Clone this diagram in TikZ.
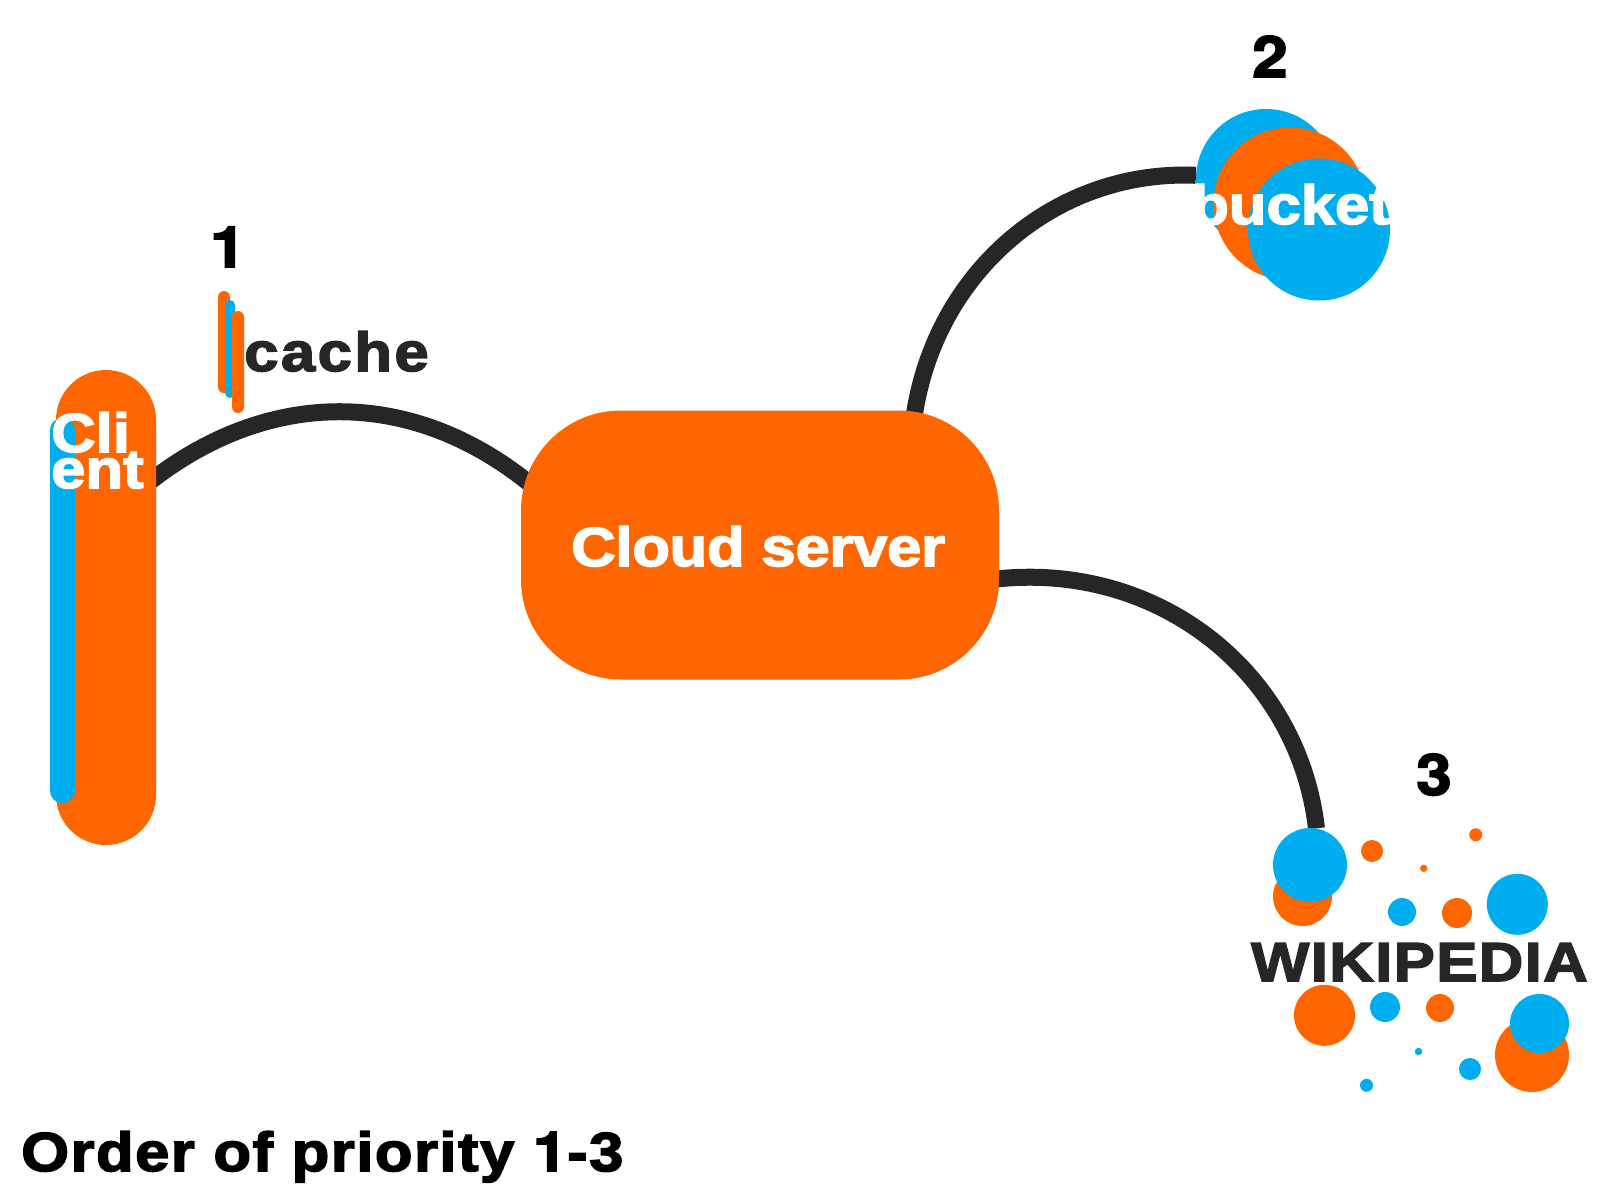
\documentclass[tikz,border=0pt]{standalone}
\usepackage{fontspec}
\usepackage{xcolor}
\usetikzlibrary{positioning, backgrounds, shapes.geometric}
\newfontfamily\heavyfont[FakeBold=2.8, FakeStretch=1.12]{Liberation Sans Bold}
\newfontfamily\digitfont[BoldFeatures={FakeBold=2.8, FakeStretch=1.12}]{TeX Gyre Heros}
\definecolor{cloudorange}{RGB}{255,102,0}
\definecolor{cloudblue}{RGB}{0,174,239}
\definecolor{darktext}{RGB}{38,38,38}
\tikzset{
    orangebox/.style={
        rectangle,
        fill=cloudorange,
        inner sep=0pt
    },
    bluebox/.style={
        orangebox,
        fill=cloudblue
    },
    orangedot/.style={
        circle,
        fill=cloudorange,
        inner sep=0pt
    },
    bluedot/.style={
        orangedot,
        fill=cloudblue
    },
    link/.style={
        draw=darktext,
        line width=17pt
    },
    heavylabel/.style={
        anchor=base west,
        inner sep=0pt,
        font=\heavyfont\fontsize{55}{55}\selectfont
    },
    digitlabel/.style={
        anchor=base west,
        inner sep=0pt,
        font=\digitfont\bfseries\fontsize{57}{57}\selectfont
    },
    whitelabel/.style={
        heavylabel,
        text=white
    },
    darklabel/.style={
        heavylabel,
        text=darktext
    }
}
\begin{document}
\begin{tikzpicture}[x=1pt, y=-1pt]
\useasboundingbox (0,0) rectangle (1600,1200);
% Client
\node[orangebox, minimum width=100pt, minimum height=475pt, rounded corners=50pt] (client) at (106,607.5) {};
\node[bluebox, minimum width=25pt, minimum height=385pt, rounded corners=12pt] (clientbar) at (62.5,610.5) {};
\node[whitelabel] (clienttop) at (51,452) {Cli};
\node[whitelabel] (clientbottom) at (51,488) {ent};
% Cache
\node[orangebox, minimum width=12pt, minimum height=102pt, rounded corners=6pt] (cachebara) at (224,342) {};
\node[bluebox, minimum width=10pt, minimum height=98pt, rounded corners=5pt] (cachebarb) at (230,349) {};
\node[orangebox, minimum width=12pt, minimum height=102pt, rounded corners=6pt] (cachebarc) at (238,362) {};
\node[darklabel, font=\heavyfont\addfontfeature{LetterSpace=4.5}\fontsize{55}{55}\selectfont] (cache) at (244,371) {cache};
\node[digitlabel] (first) at (210,267) {1};
% Server
\node[orangebox, minimum width=478pt, minimum height=269pt, rounded corners=100pt] (server) at (760,545) {};
\node[whitelabel, font=\heavyfont\addfontfeature{LetterSpace=-0.5}\fontsize{55}{55}\selectfont] (servertext) at (571,566) {Cloud server};
% Bucket
\node[bluedot, minimum size=140pt] (bucketa) at (1266,179) {};
\node[orangedot, minimum size=153pt] (bucketb) at (1290,204) {};
\node[bluedot, minimum size=142pt] (bucketc) at (1319,229.5) {};
\node[whitelabel] (bucket) at (1191,224) {bucket};
\node[digitlabel] (second) at (1252,77) {2};
% Wikipedia
\node[orangedot, minimum size=59pt] (wikia) at (1302.5,896.5) {};
\node[bluedot, minimum size=74pt] (wikib) at (1310,865) {};
\node[orangedot, minimum size=22pt] (wikic) at (1372,851) {};
\node[orangedot, minimum size=13pt] (wikid) at (1475.7,834.7) {};
\node[orangedot, minimum size=7.4pt] (wikie) at (1423.7,868.3) {};
\node[bluedot, minimum size=28pt] (wikif) at (1402,912) {};
\node[orangedot, minimum size=30pt] (wikig) at (1457,913) {};
\node[bluedot, minimum size=61pt] (wikih) at (1517.3,904.3) {};
\node[orangedot, minimum size=61pt] (wikii) at (1324.5,1015.3) {};
\node[bluedot, minimum size=30pt] (wikij) at (1385,1007) {};
\node[orangedot, minimum size=28pt] (wikik) at (1440,1008) {};
\node[orangedot, minimum size=74pt] (wikil) at (1532,1055) {};
\node[bluedot, minimum size=59pt] (wikim) at (1539.5,1023.5) {};
\node[bluedot, minimum size=7.4pt] (wikin) at (1418.5,1051.5) {};
\node[bluedot, minimum size=22pt] (wikio) at (1470,1069) {};
\node[bluedot, minimum size=13pt] (wikip) at (1366.5,1085.3) {};
\node[darklabel, font=\heavyfont\addfontfeature{LetterSpace=2.6}\fontsize{55}{55}\selectfont] (wikipedia) at (1251,981) {WIKIPEDIA};
\node[digitlabel] (third) at (1416,795) {3};
% Caption
\node[heavylabel, font=\heavyfont\addfontfeature{LetterSpace=2.7}\fontsize{55}{55}\selectfont] (caption) at (21,1171) {Order of priority {\digitfont\bfseries 1}-3};

\begin{scope}[on background layer]
\draw[link, shorten <=-8pt, shorten >=-12pt] (client.69.7) to[out=38, in=141] (server.164.1);
\draw[link, shorten <=-8pt] (server.41.4) to[out=82, in=177.5, looseness=0.98] (bucketa.177);
\draw[link, shorten <=-8pt] (server.-8.3) to[out=7, in=96.6] (wikib.80);
\end{scope}
\end{tikzpicture}
\end{document}
